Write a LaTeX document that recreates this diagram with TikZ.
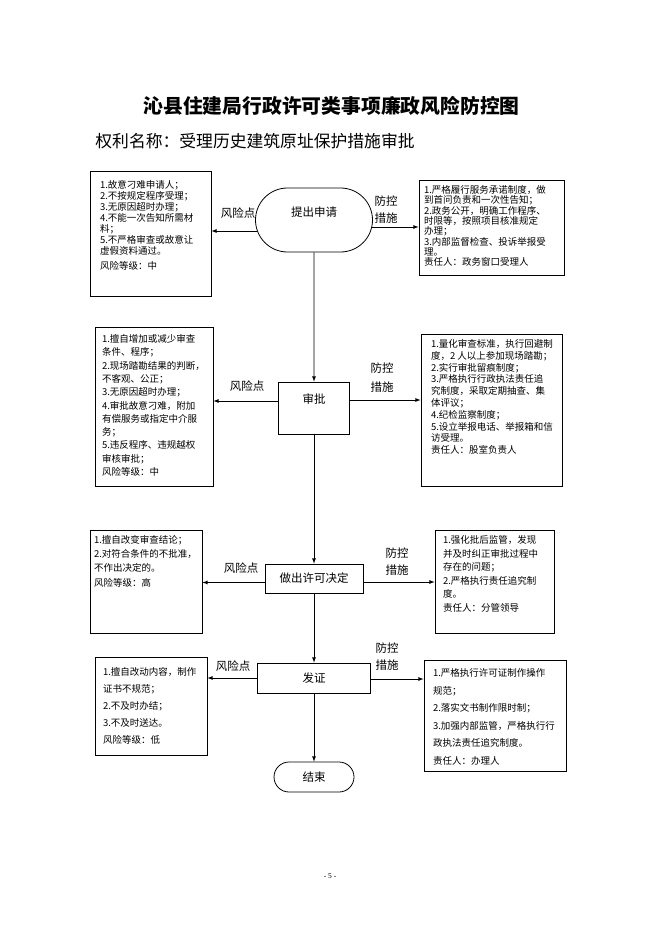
\documentclass[tikz,border=0pt]{standalone}
\usepackage{fontspec}
\setmainfont{Liberation Serif}
\newfontfamily\cjk{Noto Sans CJK SC}
\usepackage{tikz}
\usetikzlibrary{calc,shapes.misc,arrows,positioning}

\begin{document}
\begin{tikzpicture}[x=1pt,y=-1pt,line width=0.8pt,
flow/.style={draw,inner sep=0pt,font=\cjk\fontsize{11.5}{14}\selectfont},
oval/.style={flow,rounded rectangle},
box/.style={draw,inner sep=0pt},
txt/.style={anchor=north west,inner sep=0pt,align=left,font=\cjk\fontsize{9.5}{#1}\selectfont},
tag/.style={align=center,inner sep=0pt,font=\cjk\fontsize{11.5}{#1}\selectfont},
tag/.default=14]
\useasboundingbox[fill=white] (0,0) rectangle (662,936);
\node[font=\cjk\bfseries\fontsize{19.8}{22}\selectfont] (title) at (331.5,106) {沁县住建局行政许可类事项廉政风险防控图};
\node[anchor=west,inner sep=0pt,font=\cjk\fontsize{16.8}{20}\selectfont] (name) at (95,141) {权利名称：受理历史建筑原址保护措施审批};
\node[oval,minimum width=117,minimum height=64,text height=9,text depth=16] (start) at (314,220) {提出申请};
\node[flow,minimum width=71,minimum height=52,text height=9,text depth=18] (shen) at (314,408) {审批};
\node[flow,minimum width=98,minimum height=29] (jue) at (314,578.5) {做出许可决定};
\node[flow,minimum width=113,minimum height=30] (fa) at (314,678) {发证};
\node[oval,minimum width=80,minimum height=30] (end) at (314,777) {结束};
\draw[-latex] (start) -- (shen);
\draw[-latex] (shen) -- (jue);
\draw[-latex] (jue) -- (fa);
\draw[-latex] (fa) -- (end);
\node[box,minimum width=121,minimum height=125] (r1) at (150.5,233.5) {};
\node[txt=11] (r1t) at ($(r1.north west)+(10,9.5)$) {1.故意刁难申请人；\\2.不按规定程序受理；\\3.无原因超时办理；\\4.不能一次告知所需材\\料；\\5.不严格审查或故意让\\虚假资料通过。\\[4pt]风险等级：中};
\node[box,minimum width=145,minimum height=95] (c1) at (491.5,227.5) {};
\node[txt=10.3] (c1t) at ($(c1.north west)+(5,5.5)$) {1.严格履行服务承诺制度，做\\到首问负责和一次性告知；\\2.政务公开，明确工作程序、\\时限等，按照项目核准规定\\办理；\\3.内部监督检查、投诉举报受\\理。\\责任人：政务窗口受理人};
\node[tag] (k1) at (238,213) {风险点};
\node[tag=17] (p1) at (386,209.5) {防控\\措施};
\draw[-latex] ([xshift=1.5pt,yshift=-11pt]start.west) -- ([yshift=-11pt]start.west -| r1.east);
\draw[-latex] ([xshift=-0.5pt,yshift=-7pt]start.east) -- ([yshift=-7pt]start.east -| c1.west);
\node[box,minimum width=118,minimum height=159] (r2) at (154,406.5) {};
\node[txt=13.3] (r2t) at ($(r2.north west)+(7,7.5)$) {1.擅自增加或减少审查\\条件、程序；\\2.现场踏勘结果的判断，\\不客观、公正；\\3.无原因超时办理；\\4.审批故意刁难，附加\\有偿服务或指定中介服\\务；\\5.违反程序、违规越权\\审核审批；\\风险等级：中};
\node[box,minimum width=141,minimum height=152] (c2) at (491.5,410) {};
\node[txt=11.8] (c2t) at ($(c2.north west)+(10,5.5)$) {1.量化审查标准，执行回避制\\度，2 人以上参加现场踏勘；\\2.实行审批留痕制度；\\3.严格执行行政执法责任追\\究制度，采取定期抽查、集\\体评议；\\4.纪检监察制度；\\5.设立举报电话、举报箱和信\\访受理。\\责任人：股室负责人};
\node[tag] (k2) at (247,386) {风险点};
\node[tag=19] (p2) at (382,377.5) {防控\\措施};
\draw[-latex] ([yshift=7pt]shen.west) -- ([yshift=7pt]shen.west -| r2.east);
\draw[-latex] ([yshift=8pt]shen.east) -- ([yshift=8pt]shen.east -| c2.west);
\node[box,minimum width=112,minimum height=103] (r3) at (146,581.5) {};
\node[txt=14] (r3t) at ($(r3.north west)+(4,5.5)$) {1.擅自改变审查结论；\\2.对符合条件的不批准，\\不作出决定的。\\[1pt]风险等级：高};
\node[box,minimum width=119,minimum height=103] (c3) at (494.5,581.5) {};
\node[txt=13.5] (c3t) at ($(c3.north west)+(8,5.5)$) {1.强化批后监管，发现\\并及时纠正审批过程中\\存在的问题；\\2.严格执行责任追究制\\度。\\责任人：分管领导};
\node[tag] (k3) at (241,568) {风险点};
\node[tag=17] (p3) at (397,561.5) {防控\\措施};
\draw[-latex] ([yshift=-4pt]jue.west) -- ([yshift=-4pt]jue.west -| r3.east);
\draw[-latex] ([yshift=-3.5pt]jue.east) -- ([yshift=-3.5pt]jue.east -| c3.west);
\node[box,minimum width=112,minimum height=98] (r4) at (151,706) {};
\node[txt=17] (r4t) at ($(r4.north west)+(8,10.5)$) {1.擅自改动内容，制作\\证书不规范；\\2.不及时办结；\\3.不及时送达。\\风险等级：低};
\node[box,minimum width=142,minimum height=111] (c4) at (495,715.5) {};
\node[txt=17.6] (c4t) at ($(c4.north west)+(9,8.5)$) {1.严格执行许可证制作操作\\规范；\\2.落实文书制作限时制；\\3.加强内部监管，严格执行行\\政执法责任追究制度。\\责任人：办理人};
\node[tag] (k4) at (233,666) {风险点};
\node[tag=17] (p4) at (387,656.5) {防控\\措施};
\draw[-latex] (fa.west) -- (fa.west -| r4.east);
\draw[-latex] ([yshift=-1pt]fa.east) -- ([yshift=-1pt]fa.east -| c4.west);
\node[font=\fontsize{7.5}{9}\selectfont] (pg) at (330,876) {- 5 -};
\end{tikzpicture}
\end{document}
